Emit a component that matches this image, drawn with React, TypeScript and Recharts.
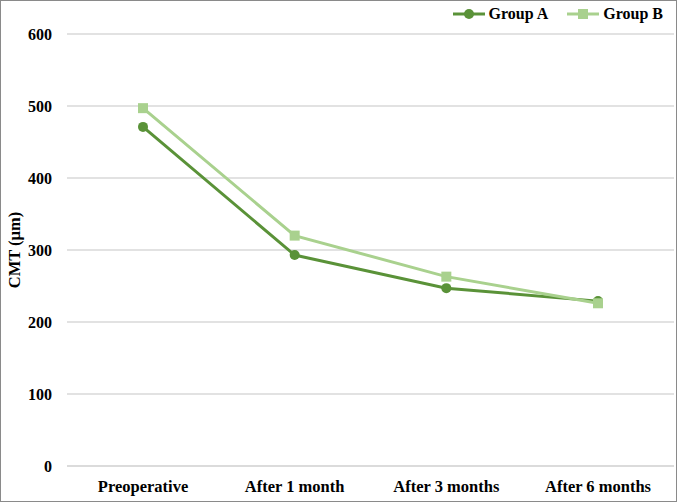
import React from "react";
import { LineChart, Line, XAxis, YAxis, CartesianGrid } from "recharts";

const categories = ["Preoperative", "After 1 month", "After 3 months", "After 6 months"];
const groupA = [471, 293, 247, 229];
const groupB = [497, 320, 263, 226];
const yTicks = [0, 100, 200, 300, 400, 500, 600];

const colorA = "#5A9238";
const colorB = "#A9D18E";
const font = "'Liberation Serif', 'Times New Roman', serif";

const data = categories.map((c, i) => ({ name: c, A: groupA[i], B: groupB[i] }));

const LegendBox = () => (
  <div style={{ position: "absolute", top: 5, right: 14, display: "flex", alignItems: "center", fontFamily: font, fontWeight: "bold", fontSize: 16, color: "#000", zIndex: 3 }}>
    <svg width={32} height={12} style={{ marginRight: 4 }}>
      <line x1={0} y1={6} x2={32} y2={6} stroke={colorA} strokeWidth={3} />
      <circle cx={16} cy={6} r={5} fill={colorA} />
    </svg>
    <span style={{ marginRight: 19 }}>Group A</span>
    <svg width={32} height={12} style={{ marginRight: 4 }}>
      <line x1={0} y1={6} x2={32} y2={6} stroke={colorB} strokeWidth={3} />
      <rect x={11} y={1} width={10} height={10} fill={colorB} />
    </svg>
    <span>Group B</span>
  </div>
);

const SquareDot = (props: any) => {
  const { cx, cy } = props;
  if (cx == null || cy == null) return null;
  return <rect x={cx - 5} y={cy - 5} width={10} height={10} fill={colorB} />;
};

export default function App() {
  return (
    <div style={{ position: "fixed", left: 0, top: 0, width: 677, height: 502, background: "#fff" }}>
      <div style={{ position: "absolute", left: 0, top: 0, width: 677, height: 502, border: "1px solid #8a8a8a", boxSizing: "border-box", pointerEvents: "none", zIndex: 2 }} />
      <LegendBox />
      <LineChart width={677} height={502} data={data} margin={{ top: 34, right: 3, bottom: 6, left: 0 }}>
        <CartesianGrid vertical={false} stroke="#d9d9d9" strokeWidth={1.5} />
        <XAxis
          dataKey="name"
          axisLine={{ stroke: "#d9d9d9", strokeWidth: 1.5 }}
          tickLine={false}
          tickSize={0}
          tickMargin={14}
          height={30}
          padding={{ left: 76, right: 76 }}
          interval={0}
          tick={{ fill: "#000", fontFamily: font, fontWeight: "bold", fontSize: 16.5 }}
        />
        <YAxis
          domain={[0, 600]}
          ticks={yTicks}
          axisLine={false}
          tickLine={false}
          tickSize={0}
          tickMargin={15}
          width={67}
          interval={0}
          tick={{ fill: "#000", fontFamily: font, fontWeight: "bold", fontSize: 16 }}
          label={{ value: "CMT (µm)", angle: -90, position: "insideLeft", offset: 14, style: { fill: "#000", fontFamily: font, fontWeight: "bold", fontSize: 16.5, textAnchor: "middle" } }}
        />
        <Line type="linear" dataKey="A" stroke={colorA} strokeWidth={3} dot={{ r: 5, fill: colorA, stroke: colorA, strokeWidth: 0 }} activeDot={false} isAnimationActive={false} />
        <Line type="linear" dataKey="B" stroke={colorB} strokeWidth={3} dot={<SquareDot />} activeDot={false} isAnimationActive={false} />
      </LineChart>
    </div>
  );
}
